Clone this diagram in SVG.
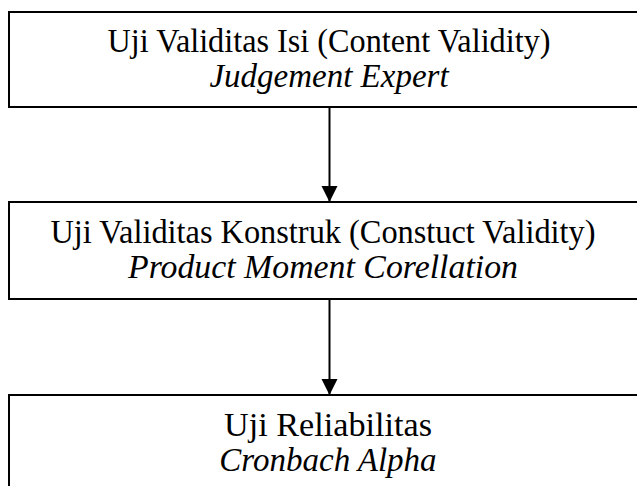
<svg xmlns="http://www.w3.org/2000/svg" width="637" height="486" viewBox="0 0 637 486">
<defs>
<style>
.box{fill:#fff;stroke:#000;stroke-width:2}
.t{font-family:"Liberation Serif","Times New Roman",serif;font-size:33px;fill:#000;text-anchor:middle}
.i{font-style:italic}
.c{stroke:#000;stroke-width:2;fill:none}
</style>
<marker id="ah" markerUnits="userSpaceOnUse" markerWidth="17" markerHeight="17" refX="16" refY="8" orient="auto">
<path d="M0,0 L16,8 L0,16 Z" fill="#000"/>
</marker>
</defs>
<rect width="637" height="486" fill="#fff"/>
<g id="node1">
<rect class="box" x="9" y="12" width="640" height="95"/>
<text class="t" x="329" y="52" textLength="443" lengthAdjust="spacingAndGlyphs">Uji Validitas Isi (Content Validity)</text>
<text class="t i" x="329" y="87">Judgement Expert</text>
</g>
<g id="node2">
<rect class="box" x="9" y="202" width="640" height="97"/>
<text class="t" x="323" y="243" textLength="545" lengthAdjust="spacingAndGlyphs">Uji Validitas Konstruk (Constuct Validity)</text>
<text class="t i" x="323" y="278" textLength="390" lengthAdjust="spacingAndGlyphs">Product Moment Corellation</text>
</g>
<g id="node3">
<rect class="box" x="9" y="395" width="640" height="100"/>
<text class="t" x="328" y="436" textLength="208" lengthAdjust="spacingAndGlyphs">Uji Reliabilitas</text>
<text class="t i" x="328" y="471">Cronbach Alpha</text>
</g>
<g id="connectors">
<line class="c" x1="329.5" y1="107" x2="329.5" y2="202" marker-end="url(#ah)"/>
<line class="c" x1="329.5" y1="299" x2="329.5" y2="395" marker-end="url(#ah)"/>
</g>
</svg>
